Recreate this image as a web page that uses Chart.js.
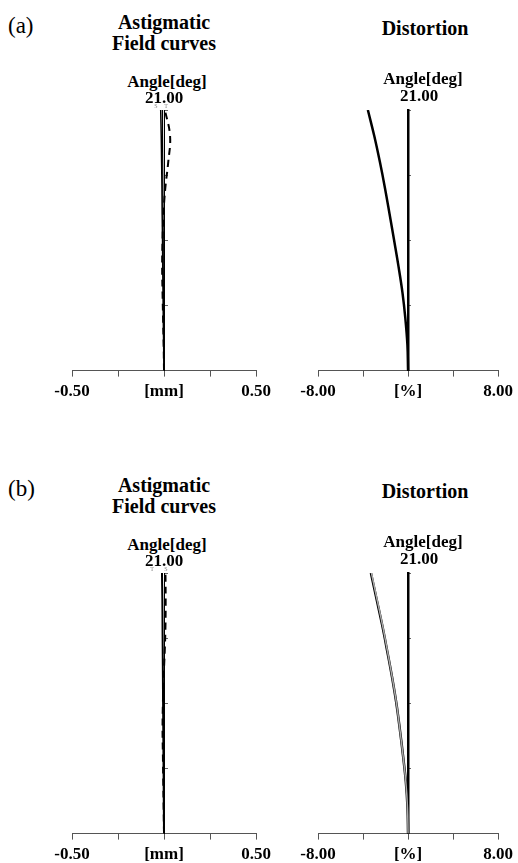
<!DOCTYPE html>
<html>
<head>
<meta charset="utf-8">
<script src="https://cdn.jsdelivr.net/npm/chart.js@4"></script>
<style>
  body { margin: 0; background: #fff; }
  #page { position: relative; width: 518px; height: 863px; overflow: hidden; background: #fff; }
  canvas { position: absolute; }
  .lbl {
    position: absolute;
    transform: translate(-50%, -50%);
    white-space: nowrap;
    font-family: "Liberation Serif", "Times New Roman", serif;
    font-weight: bold;
    color: #000;
    line-height: 1;
  }
  .panel { font-weight: normal; font-size: 23px; transform: translate(0, -50%); }
  .title { font-size: 20px; }
  .angle { font-size: 17px; }
  .st { font-size: 6px; font-weight: normal; color: #888; }
</style>
</head>
<body>
<div id="page">
  <canvas id="astig-a" width="280" height="308" style="left:0px; top:100px;"></canvas>
  <canvas id="dist-a" width="248" height="308" style="left:270px; top:100px;"></canvas>
  <canvas id="astig-b" width="280" height="308" style="left:0px; top:563px;"></canvas>
  <canvas id="dist-b" width="248" height="308" style="left:270px; top:563px;"></canvas>
</div>
<script>
// field angle (deg) for every sample point, bottom to top
const fieldAngles = [0, 2.1, 4.2, 6.3, 8.4, 10.5, 12.6, 14.7, 16.8, 18.9, 21];

// (a) astigmatic field curves, mm
const astigSagA = [0, -0.002, -0.004, -0.005, -0.007, -0.008, -0.010, -0.011, -0.013, -0.015, -0.018];
const astigSag2A = [0, -0.001, -0.002, -0.003, -0.004, -0.004, -0.005, -0.006, -0.007, -0.008, -0.008];
const astigTanA = [0, -0.002, -0.005, -0.008, -0.010, -0.008, -0.003, 0.007, 0.023, 0.033, 0.005];
// (a) distortion, %
const distortionA = [0, -0.06, -0.24, -0.50, -0.85, -1.24, -1.64, -2.05, -2.50, -3.00, -3.57];

// (b) astigmatic field curves, mm
const astigSagB = [0, -0.001, -0.002, -0.003, -0.004, -0.005, -0.006, -0.007, -0.008, -0.009, -0.011];
const astigTanB = [0, -0.002, -0.004, -0.006, -0.008, -0.006, -0.002, 0.004, 0.008, 0.009, 0.008];
// (b) distortion, %
const distortionB = [0, -0.05, -0.20, -0.45, -0.73, -1.04, -1.42, -1.85, -2.30, -2.80, -3.30];
const distortion2B = [0, -0.05, -0.20, -0.45, -0.73, -1.03, -1.41, -1.83, -2.27, -2.76, -3.25];

// axis tick labels
const mmTickLabels = ["-0.50", "", "[mm]", "", "0.50"];
const pctTickLabels = ["-8.00", "", "[%]", "", "8.00"];
const angleMax = 21;
const angleStep = 5.25;

const SERIF = "'Liberation Serif', 'Times New Roman', serif";

function toPoints(values) {
  return values.map((v, i) => ({ x: v, y: fieldAngles[i] }));
}

function curve(values, opts) {
  return Object.assign({
    data: toPoints(values),
    showLine: true,
    pointRadius: 0,
    borderColor: "#000",
    borderWidth: 2,
    tension: 0.4,
    fill: false
  }, opts || {});
}

function buildPanel(id, xMax, tickLabels, datasets, axisWidth, padLeft, padRight) {
  const canvas = document.getElementById(id);
  new Chart(canvas, {
    type: "scatter",
    data: { datasets: datasets },
    options: {
      responsive: false,
      animation: false,
      layout: { padding: { left: padLeft, right: padRight, top: 10, bottom: 1 } },
      plugins: { legend: { display: false }, tooltip: { enabled: false } },
      scales: {
        x: {
          type: "linear",
          min: -xMax,
          max: xMax,
          ticks: {
            stepSize: xMax / 2,
            autoSkip: false,
            maxRotation: 0,
            padding: 5,
            color: "#000",
            font: { family: SERIF, weight: "bold", size: 17 },
            callback: (value, index) => tickLabels[index]
          },
          grid: { drawOnChartArea: false, tickLength: 6, color: "#555" },
          border: { color: "#555", width: 1 }
        },
        y: {
          type: "linear",
          min: 0,
          max: angleMax,
          position: { x: 0 },
          ticks: { display: false, stepSize: angleStep },
          grid: { drawOnChartArea: false, tickLength: -4, color: "#666" },
          border: { color: "#000", width: axisWidth }
        }
      }
    }
  });
}

buildPanel("astig-a", 0.5, mmTickLabels, [
  curve(astigSag2A, { borderWidth: 1.2 }),
  curve(astigSagA, { borderWidth: 1.5 }),
  curve(astigTanA, { borderDash: [7, 5], borderWidth: 2 })
], 1, 72, 24);

buildPanel("dist-a", 8, pctTickLabels, [
  curve(distortionA, { borderWidth: 2.5 })
], 2.5, 48, 16);

buildPanel("astig-b", 0.5, mmTickLabels, [
  curve(astigSagB, { borderWidth: 2 }),
  curve(astigTanB, { borderDash: [7, 5], borderWidth: 2 })
], 1, 72, 24);

buildPanel("dist-b", 8, pctTickLabels, [
  curve(distortion2B, { borderWidth: 1.5, borderColor: "#aaa" }),
  curve(distortionB, { borderWidth: 2.5 })
], 2.5, 48, 16);

// captions around the plots
const page = document.getElementById("page");
function addLabel(text, cls, x, y) {
  const d = document.createElement("div");
  d.className = "lbl " + cls;
  d.textContent = text;
  d.style.left = x + "px";
  d.style.top = y + "px";
  page.appendChild(d);
}

[["(a)", 0], ["(b)", 463]].forEach(([tag, dy]) => {
  addLabel(tag, "panel", 8, 25 + dy);
  addLabel("Astigmatic", "title", 164, 22 + dy);
  addLabel("Field curves", "title", 164, 43 + dy);
  addLabel("Angle[deg]", "angle", 167, 81 + dy);
  addLabel("21.00", "angle", 164, 97 + dy);
  addLabel("Distortion", "title", 425, 28 + dy);
  addLabel("Angle[deg]", "angle", 423, 78 + dy);
  addLabel("21.00", "angle", 419, 95 + dy);
});
addLabel("S", "st", 156, 106);
addLabel("T", "st", 166, 106);
addLabel("T", "st", 152, 569);
addLabel("S", "st", 166, 569);
</script>
</body>
</html>
